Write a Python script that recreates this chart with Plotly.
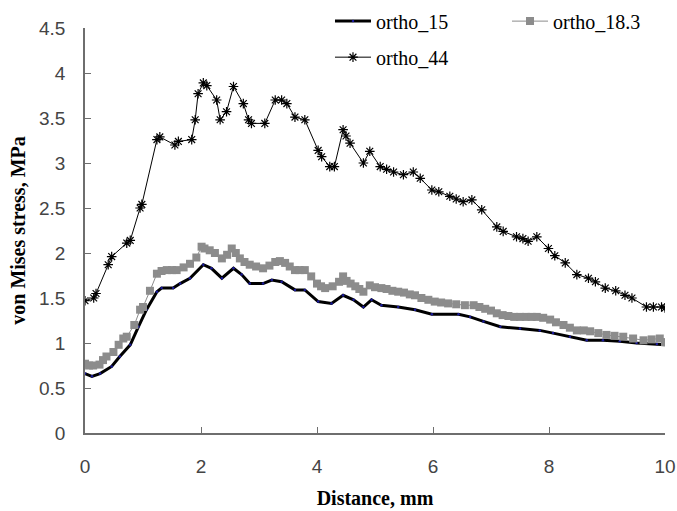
import plotly.graph_objects as go

# ---- data ----
x_15 = [0.00, 0.12, 0.26, 0.46, 0.60, 0.78, 0.92, 1.06, 1.24, 1.32, 1.52, 1.64, 1.81, 2.04,
        2.18, 2.36, 2.56, 2.70, 2.84, 3.07, 3.22, 3.39, 3.62, 3.79, 4.02, 4.25, 4.45, 4.63,
        4.80, 4.94, 5.11, 5.40, 5.69, 5.98, 6.44, 6.64, 6.87, 7.16, 7.50, 7.84, 8.07, 8.36,
        8.65, 8.93, 9.22, 9.51, 9.86, 10.0]
y_15 = [0.66, 0.63, 0.66, 0.74, 0.85, 0.98, 1.18, 1.37, 1.57, 1.61, 1.61, 1.66, 1.72, 1.87,
        1.83, 1.72, 1.83, 1.76, 1.66, 1.66, 1.70, 1.68, 1.59, 1.59, 1.46, 1.44, 1.53, 1.48,
        1.40, 1.48, 1.42, 1.40, 1.37, 1.32, 1.32, 1.29, 1.24, 1.18, 1.16, 1.14, 1.11, 1.07,
        1.03, 1.03, 1.02, 1.00, 0.99, 0.98]

x_183 = [0.00, 0.07, 0.14, 0.25, 0.31, 0.37, 0.49, 0.58, 0.66, 0.72, 0.85, 0.95, 1.00, 1.12,
         1.24, 1.32, 1.41, 1.50, 1.58, 1.70, 1.81, 1.92, 2.01, 2.06, 2.15, 2.24, 2.36, 2.45,
         2.53, 2.60, 2.67, 2.75, 2.84, 2.95, 3.07, 3.18, 3.28, 3.36, 3.45, 3.53, 3.62, 3.70,
         3.79, 3.90, 4.00, 4.07, 4.14, 4.27, 4.38, 4.45, 4.51, 4.58, 4.66, 4.73, 4.80, 4.91,
         5.00, 5.11, 5.20, 5.30, 5.40, 5.50, 5.60, 5.69, 5.80, 5.92, 6.03, 6.14, 6.26, 6.40,
         6.55, 6.70, 6.80, 6.90, 7.00, 7.10, 7.20, 7.30, 7.40, 7.50, 7.60, 7.70, 7.79, 7.90,
         8.02, 8.12, 8.25, 8.36, 8.48, 8.60, 8.71, 8.85, 8.99, 9.13, 9.28, 9.45, 9.63, 9.77,
         9.91, 10.0]
y_183 = [0.77, 0.75, 0.75, 0.76, 0.81, 0.85, 0.90, 0.98, 1.05, 1.07, 1.20, 1.37, 1.40, 1.58,
         1.77, 1.80, 1.81, 1.81, 1.81, 1.84, 1.88, 1.95, 2.07, 2.05, 2.03, 2.00, 1.94, 1.98,
         2.05, 2.00, 1.94, 1.90, 1.87, 1.85, 1.83, 1.86, 1.90, 1.91, 1.89, 1.85, 1.81, 1.81,
         1.81, 1.74, 1.66, 1.63, 1.61, 1.63, 1.68, 1.74, 1.69, 1.66, 1.63, 1.60, 1.57, 1.64,
         1.62, 1.61, 1.60, 1.58, 1.57, 1.56, 1.54, 1.53, 1.50, 1.48, 1.46, 1.45, 1.44, 1.43,
         1.42, 1.42, 1.40, 1.38, 1.36, 1.33, 1.31, 1.30, 1.29, 1.29, 1.29, 1.29, 1.29, 1.28,
         1.26, 1.23, 1.20, 1.17, 1.14, 1.14, 1.13, 1.11, 1.09, 1.08, 1.07, 1.05, 1.03, 1.04,
         1.05, 1.01]

x_44 = [0.00, 0.15, 0.19, 0.40, 0.46, 0.72, 0.78, 0.95, 0.98, 1.24, 1.29, 1.55, 1.61, 1.84,
        1.90, 1.95, 2.04, 2.10, 2.27, 2.33, 2.44, 2.56, 2.73, 2.82, 2.87, 3.10, 3.28, 3.39,
        3.48, 3.62, 3.79, 4.02, 4.08, 4.22, 4.30, 4.45, 4.50, 4.57, 4.80, 4.91, 5.09, 5.20,
        5.32, 5.49, 5.66, 5.78, 5.98, 6.10, 6.29, 6.40, 6.52, 6.67, 6.84, 7.10, 7.21, 7.44,
        7.55, 7.64, 7.79, 7.99, 8.10, 8.28, 8.48, 8.68, 8.80, 8.97, 9.15, 9.31, 9.43, 9.68,
        9.80, 9.94, 10.0]
y_44 = [1.47, 1.50, 1.55, 1.87, 1.96, 2.11, 2.14, 2.50, 2.54, 3.26, 3.29, 3.20, 3.24, 3.26,
        3.48, 3.77, 3.89, 3.86, 3.70, 3.48, 3.57, 3.85, 3.66, 3.48, 3.44, 3.44, 3.70, 3.70,
        3.66, 3.51, 3.48, 3.14, 3.07, 2.96, 2.96, 3.37, 3.30, 3.22, 3.00, 3.13, 2.96, 2.93,
        2.90, 2.87, 2.90, 2.83, 2.70, 2.68, 2.63, 2.60, 2.57, 2.59, 2.48, 2.29, 2.24, 2.18,
        2.16, 2.13, 2.18, 2.05, 1.97, 1.89, 1.76, 1.72, 1.68, 1.61, 1.58, 1.53, 1.50, 1.40,
        1.40, 1.40, 1.39]

x_ticks = [0, 2, 4, 6, 8, 10]
y_ticks = [0, 0.5, 1, 1.5, 2, 2.5, 3, 3.5, 4, 4.5]
y_tick_labels = ["0", "0.5", "1", "1.5", "2", "2.5", "3", "3.5", "4", "4.5"]

SERIF = "Times New Roman, Liberation Serif, serif"
TICKFONT = dict(family="Liberation Sans Narrow, Arial Narrow, Liberation Sans", size=19, color="#444")
AXIS_COLOR = "#6e6e6e"

fig = go.Figure()
fig.add_trace(go.Scatter(
    x=x_15, y=y_15, name="ortho_15", mode="lines+markers",
    line=dict(color="black", width=3),
    marker=dict(symbol="circle", size=2.5, color="#1a1a9a"),
    legend="legend"))
fig.add_trace(go.Scatter(
    x=x_183, y=y_183, name="ortho_18.3", mode="lines+markers",
    line=dict(color="#8c8c8c", width=1),
    marker=dict(symbol="square", size=8, color="#8c8c8c"),
    legend="legend2"))
fig.add_trace(go.Scatter(
    x=x_44, y=y_44, name="ortho_44", mode="lines+markers",
    line=dict(color="black", width=1),
    marker=dict(symbol="asterisk-open", size=8, line=dict(color="black", width=1.2)),
    legend="legend3"))

leg_common = dict(font=dict(family=SERIF, size=20, color="black"),
                  bgcolor="rgba(0,0,0,0)", xanchor="left", yanchor="middle",
                  itemwidth=36)
fig.update_layout(
    width=677, height=511,
    margin=dict(l=85, r=12, t=28, b=78, autoexpand=False),
    paper_bgcolor="white", plot_bgcolor="white",
    showlegend=True,
    legend=dict(x=0.4224, y=1.017, **leg_common),
    legend2=dict(x=0.7276, y=1.017, **leg_common),
    legend3=dict(x=0.4224, y=0.928, **leg_common),
    xaxis=dict(range=[0, 10], tickvals=x_ticks, ticks="inside", ticklen=6,
               tickcolor=AXIS_COLOR, showline=True, linecolor=AXIS_COLOR, linewidth=1.5,
               showgrid=False, zeroline=False, ticklabelstandoff=15, automargin=False,
               tickfont=TICKFONT,
               title=dict(text="<b>Distance, mm</b>", standoff=15,
                          font=dict(family=SERIF, size=20, color="black"))),
    yaxis=dict(range=[0, 4.5], tickvals=y_ticks, ticktext=y_tick_labels,
               ticks="inside", ticklen=6, tickcolor=AXIS_COLOR,
               showline=True, linecolor=AXIS_COLOR, linewidth=1.5,
               showgrid=False, zeroline=False, ticklabelstandoff=14, automargin=False,
               tickfont=TICKFONT,
               title=dict(text="<b>von Mises stress, MPa</b>", standoff=8,
                          font=dict(family=SERIF, size=20, color="black"))),
)

fig.write_html("out.html", config={"displayModeBar": False},
               post_script="document.body.style.margin='0px';")
